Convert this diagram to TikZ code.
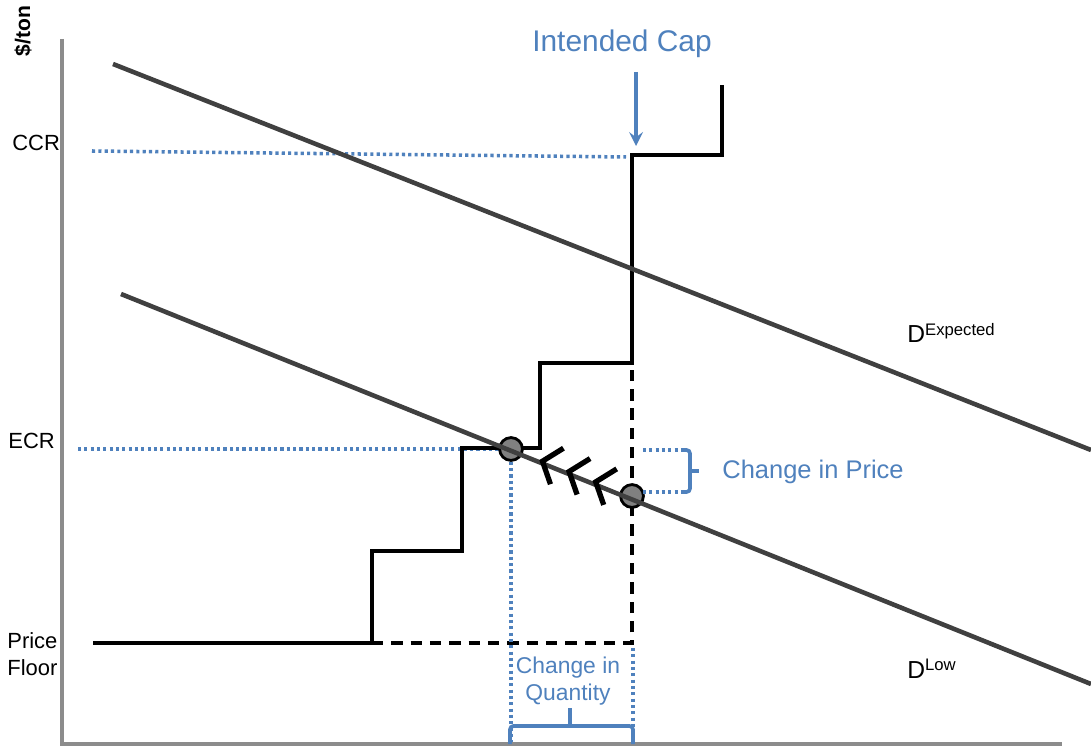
\documentclass[tikz,border=0pt]{standalone}
\usepackage{fontspec}
\setmainfont{Liberation Sans}
\usetikzlibrary{calc}
\definecolor{capblue}{RGB}{79,129,189}
\definecolor{demandgray}{RGB}{64,64,64}
\definecolor{axisgray}{RGB}{140,140,140}

\begin{document}
\begin{tikzpicture}[x=0.02cm, y=-0.02cm,
  axis/.style={axisgray, line width=2pt},
  demand/.style={demandgray, line width=2.6pt},
  supply/.style={black, line width=2pt},
  ghost/.style={black, line width=2pt, dash pattern=on 6.5pt off 4.5pt},
  guide/.style={capblue, line width=2pt, dash pattern=on 1.8pt off 1.8pt},
  brace/.style={capblue, line width=2.1pt, rounded corners=2pt},
  chev/.style={black, line width=3pt},
  eqpt/.style={circle, draw=black, fill=gray, line width=1.6pt, minimum size=13pt, inner sep=0pt},
  lbl/.style={inner sep=0pt, anchor=base west, font=\fontsize{12.5}{15.3}\selectfont},
  note/.style={capblue, inner sep=0pt},
  arrow/.style={->, >=stealth, capblue, line width=2.4pt}]

  \useasboundingbox (0,0) rectangle (1091,749);

  % axes
  \draw[axis] (62,39) -- (62,744) -- (1062,744);
  \node[rotate=90, inner sep=0pt, font=\bfseries\fontsize{12}{14}\selectfont] (unit) at (23,31) {\$/ton};

  % price levels
  \node[lbl] (ccr) at (12,151) {CCR};
  \node[lbl] (ecr) at (8,448) {ECR};
  \node[lbl, anchor=north west, align=left] (floor) at (7,632) {Price\\Floor};

  \draw[guide] (92,151) -- (626,157);
  \draw[guide] (78,449) -- (500,449);

  % supply schedule
  \draw[supply] (93,643) -| (372,551) -| (462,448) -| (540,363) -| (632,155) -| (722,85);
  \draw[ghost] (372,643) -- (632,643) -- (632,363);

  \node[eqpt] (eqA) at (511,449) {};
  \node[eqpt] (eqB) at (632,496) {};

  \draw[guide] (eqA.south) -- (511,742);
  \draw[guide] (633,648) -- (633,740);

  % demand curves
  \draw[demand] (113,64) -- (1091,450);
  \draw[demand] (121,294) -- (1091,684);
  \node[lbl, font=\fontsize{14}{16}\selectfont] (dexp) at (907,343) {D\raisebox{4pt}{\fontsize{9.5}{11}\selectfont Expected}};
  \node[lbl, font=\fontsize{14}{16}\selectfont] (dlow) at (907,678) {D\raisebox{4pt}{\fontsize{9.5}{11}\selectfont Low}};

  \foreach \t in {0.26,0.48,0.7}
    \draw[chev] ($(eqA)!\t!(eqB)$) ++(21,-13) -- ++(-21,13) -- ++(8,23);

  % intended cap
  \node[note, anchor=base, font=\fontsize{17}{20}\selectfont] (cap) at (622,52) {Intended Cap};
  \coordinate (captail) at (636,72);
  \coordinate (caphead) at (636,146);
  \draw[arrow] (captail) -- (caphead);

  % change in price
  \draw[guide] (643,450) -- (682,450);
  \draw[guide] (643,492) -- (682,492);
  \draw[brace] (682,450) -| (690,492) -- (682,492);
  \draw[brace] (690,471) -- (699,471);
  \node[note, anchor=base west, font=\fontsize{14.5}{17}\selectfont] (dprice) at (722,478) {Change in Price};

  % change in quantity
  \draw[brace] (510,744) |- (633,726) -- (633,744);
  \draw[brace] (570,726) -- (570,708);
  \node[note, align=center, font=\fontsize{13}{15.3}\selectfont] (dqty) at (568,681) {Change in\\Quantity};
\end{tikzpicture}
\end{document}
